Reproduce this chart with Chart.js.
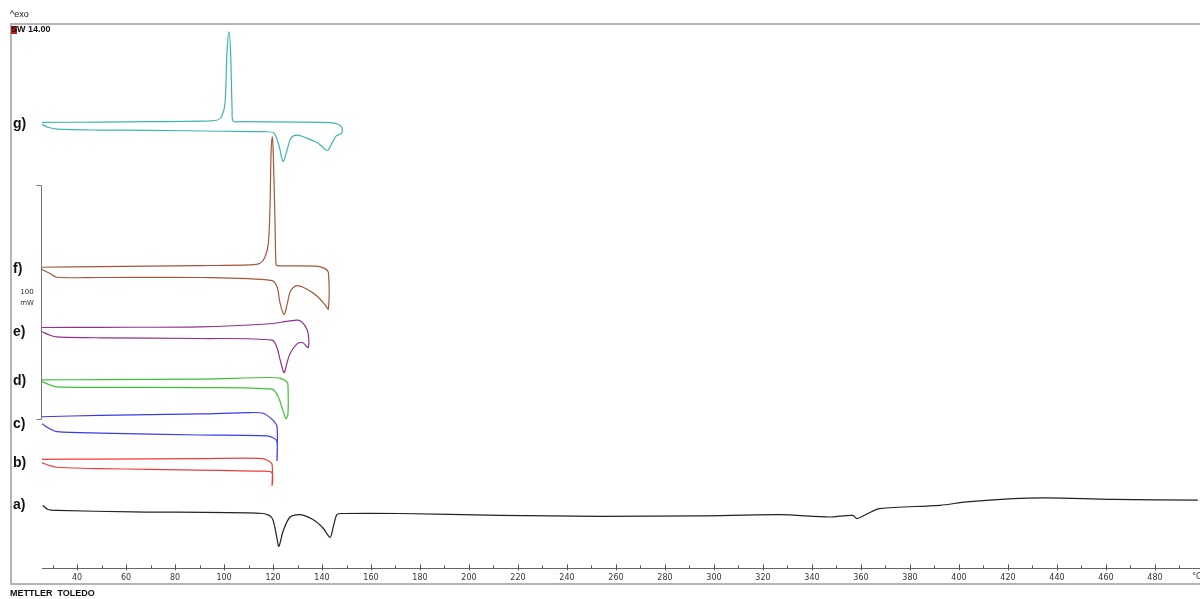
<!DOCTYPE html>
<html lang="en">
<head>
  <meta charset="UTF-8" />
  <title>DSC curves</title>
  <style>
    body { margin: 0; background: #fff; }
    canvas { display: block; }
  </style>
</head>
<body>
  <canvas id="dscChart" width="1200" height="599"></canvas>
  <script src="https://cdn.jsdelivr.net/npm/chart.js"></script>
  <script>
    // temperature (°C) and heat flow (mW, each curve shifted)
    const aTemp = [26.0, 28.1, 31.8, 62.8, 115.9, 119.6, 121.6, 122.4, 124.1, 126.9, 131.0, 136.3, 140.4, 143.3, 144.5, 146.1, 148.5, 171.8, 212.6, 253.5, 294.3, 326.9, 347.3, 356.7, 358.4, 362.4, 367.7, 392.2, 403.2, 422.0, 435.9, 462.8, 497.5];
    const aHeat = [27.0, 25.2, 24.8, 24.2, 23.5, 21.6, 13.0, 9.4, 15.9, 21.9, 23.0, 20.9, 17.3, 13.3, 17.3, 23.0, 23.5, 23.5, 22.7, 22.3, 22.5, 23.0, 22.0, 22.7, 21.3, 23.3, 25.6, 27.0, 28.5, 29.9, 30.2, 29.5, 29.2];

    const bTemp = [25.7, 29.0, 31.8, 49.4, 69.8, 115.9, 119.6, 119.6, 119.6, 117.9, 114.7, 90.2, 49.4, 25.7];
    const bHeat = [45.2, 44.0, 43.3, 42.7, 42.4, 41.6, 40.9, 35.5, 44.5, 46.2, 47.1, 47.0, 46.8, 46.7];

    const cTemp = [25.7, 29.0, 31.8, 49.4, 90.2, 117.5, 120.0, 121.6, 121.6, 121.6, 119.6, 115.9, 110.6, 90.2, 49.4, 25.7];
    const cHeat = [61.9, 59.7, 58.5, 57.9, 57.1, 56.7, 55.9, 54.5, 46.2, 60.9, 63.8, 66.4, 66.7, 66.1, 65.5, 64.9];

    const dTemp = [25.7, 29.0, 31.8, 49.4, 90.2, 119.6, 122.0, 124.1, 125.3, 126.1, 126.1, 125.7, 122.8, 117.5, 90.2, 49.4, 25.7];
    const dHeat = [80.0, 78.5, 77.7, 77.5, 77.4, 76.7, 73.8, 67.4, 64.1, 66.1, 78.8, 79.8, 81.4, 81.7, 81.0, 80.8, 80.7];

    const eTemp = [25.7, 29.0, 31.8, 49.4, 90.2, 119.6, 121.6, 122.8, 124.5, 125.7, 126.9, 129.8, 132.2, 134.3, 134.3, 133.0, 131.4, 129.8, 125.7, 117.5, 90.2, 49.4, 25.7];
    const eHeat = [101.3, 99.8, 99.1, 98.7, 98.4, 97.7, 94.5, 89.7, 83.8, 88.0, 91.8, 96.1, 96.6, 94.5, 100.9, 103.9, 105.8, 106.3, 105.7, 104.6, 103.4, 103.2, 103.1];

    const fTemp = [25.7, 29.0, 31.8, 49.4, 90.2, 119.6, 121.7, 122.8, 124.5, 125.8, 127.2, 129.7, 133.7, 137.8, 141.2, 142.6, 142.6, 141.2, 138.4, 121.7, 121.2, 120.8, 120.1, 119.7, 119.2, 118.8, 118.1, 116.7, 114.7, 110.6, 90.2, 49.4, 25.7];
    const fHeat = [127.9, 126.2, 124.6, 124.5, 124.5, 123.2, 120.3, 113.9, 108.6, 113.2, 118.9, 121.0, 119.6, 116.7, 112.9, 111.0, 126.7, 128.3, 129.3, 129.6, 130.3, 148.9, 177.7, 184.7, 177.6, 156.2, 139.1, 133.2, 130.6, 129.9, 129.6, 129.2, 128.9];

    const gTemp = [25.7, 28.1, 31.8, 49.4, 69.8, 98.4, 116.7, 120.4, 122.4, 124.1, 125.7, 127.3, 129.8, 133.0, 138.4, 141.2, 142.4, 144.1, 145.7, 147.3, 148.1, 148.1, 146.5, 143.3, 131.0, 106.5, 103.7, 103.3, 102.7, 102.0, 101.2, 100.4, 99.0, 97.0, 90.2, 69.8, 49.4, 25.7];
    const gHeat = [190.0, 188.8, 188.0, 187.6, 187.5, 187.1, 186.9, 186.3, 181.1, 174.2, 178.9, 184.1, 185.4, 184.5, 182.0, 179.4, 178.9, 182.0, 185.0, 185.8, 186.3, 188.8, 190.1, 190.8, 191.0, 191.2, 191.4, 196.1, 220.6, 229.6, 220.6, 199.1, 193.3, 191.8, 191.4, 191.2, 191.0, 190.9];

    const curveNames = ['a)', 'b)', 'c)', 'd)', 'e)', 'f)', 'g)'];
    const tempMin = 25.7;
    const tempMax = 498.4;
    const heatMax = 233;
    const scaleBarBase = 64;   // mW, bottom of the 100 mW bar
    const scaleBarSpan = 100;

    const series = [
      [aTemp, aHeat, '#222222'],
      [bTemp, bHeat, '#ee3b3b'],
      [cTemp, cHeat, '#3a3aee'],
      [dTemp, dHeat, '#3cbf3c'],
      [eTemp, eHeat, '#92308f'],
      [fTemp, fHeat, '#a3573a'],
      [gTemp, gHeat, '#3fb5b0']
    ];

    const datasets = series.map((s, i) => ({
      label: curveNames[i],
      data: s[0].map((t, k) => ({ x: t, y: s[1][k] })),
      borderColor: s[2],
      borderWidth: 1.2,
      pointRadius: 0,
      fill: false,
      tension: 0.3
    }));

    const decor = {
      id: 'decor',
      beforeDraw(chart) {
        const c = chart.ctx;
        c.save();
        c.fillStyle = '#fff';
        c.fillRect(0, 0, chart.width, chart.height);
        c.strokeStyle = '#b4b4b4';
        c.lineWidth = 2;
        c.strokeRect(11, 24, 1200, 560);
        c.restore();
      },
      afterDraw(chart) {
        const c = chart.ctx;
        const xs = chart.scales.x;
        const ys = chart.scales.y;
        c.save();

        // tick marks pointing into the plot
        c.strokeStyle = '#555';
        c.lineWidth = 1;
        xs.ticks.forEach(t => {
          const px = Math.round(xs.getPixelForValue(t.value)) + 0.5;
          const major = t.value % 20 === 0;
          c.beginPath();
          c.moveTo(px, xs.top - (major ? 4 : 3));
          c.lineTo(px, xs.top + (major ? 2 : 0));
          c.stroke();
        });

        c.fillStyle = '#333';
        c.font = '8px "DejaVu Sans", sans-serif';
        c.textBaseline = 'middle';
        c.textAlign = 'left';
        c.fillText('°C', xs.right - 8, 577);

        // 100 mW bar
        const bx = Math.round(xs.left) - 0.5;
        const y0 = Math.round(ys.getPixelForValue(scaleBarBase)) + 0.5;
        const y1 = Math.round(ys.getPixelForValue(scaleBarBase + scaleBarSpan)) + 0.5;
        c.strokeStyle = '#777';
        c.beginPath();
        c.moveTo(bx - 5, y1); c.lineTo(bx, y1); c.lineTo(bx, y0); c.lineTo(bx - 5, y0);
        c.stroke();
        c.font = '7px "DejaVu Sans", sans-serif';
        c.textAlign = 'center';
        const mid = (y0 + y1) / 2;
        c.fillText(String(scaleBarSpan), 27, mid - 10);
        c.fillText('mW', 27, mid + 1);

        // curve names
        c.fillStyle = '#111';
        c.font = 'bold 14px Arial, "Liberation Sans", sans-serif';
        c.textAlign = 'left';
        series.forEach((s, i) => {
          c.fillText(curveNames[i], 13, ys.getPixelForValue(s[1][0]));
        });

        // header / footer text
        c.font = '9px Arial, "Liberation Sans", sans-serif';
        c.fillStyle = '#111';
        c.fillText('^exo', 10, 15);
        c.fillStyle = '#c02020';
        c.fillRect(11, 26, 6, 8);
        c.fillStyle = '#111';
        c.font = 'bold 9px Arial, "Liberation Sans", sans-serif';
        c.fillText('SW 14.00', 11, 30);
        c.fillText('METTLER  TOLEDO', 10, 594);
        c.restore();
      }
    };

    new Chart(document.getElementById('dscChart').getContext('2d'), {
      type: 'line',
      data: { datasets: datasets },
      options: {
        responsive: false,
        animation: false,
        layout: { padding: { left: 42, right: 0, top: 24, bottom: 11 } },
        plugins: { legend: { display: false }, tooltip: { enabled: false } },
        scales: {
          x: {
            type: 'linear',
            min: tempMin,
            max: tempMax,
            grid: { display: false, drawTicks: false, tickLength: 0 },
            border: { display: true, color: '#666', width: 1 },
            ticks: {
              stepSize: 10,
              includeBounds: false,
              autoSkip: false,
              maxRotation: 0,
              padding: 5,
              color: '#333',
              font: { size: 8, family: '"DejaVu Sans", sans-serif' },
              callback: v => (v % 20 === 0 ? v : '')
            }
          },
          y: {
            display: false,
            min: 0,
            max: heatMax
          }
        }
      },
      plugins: [decor]
    });
  </script>
</body>
</html>
